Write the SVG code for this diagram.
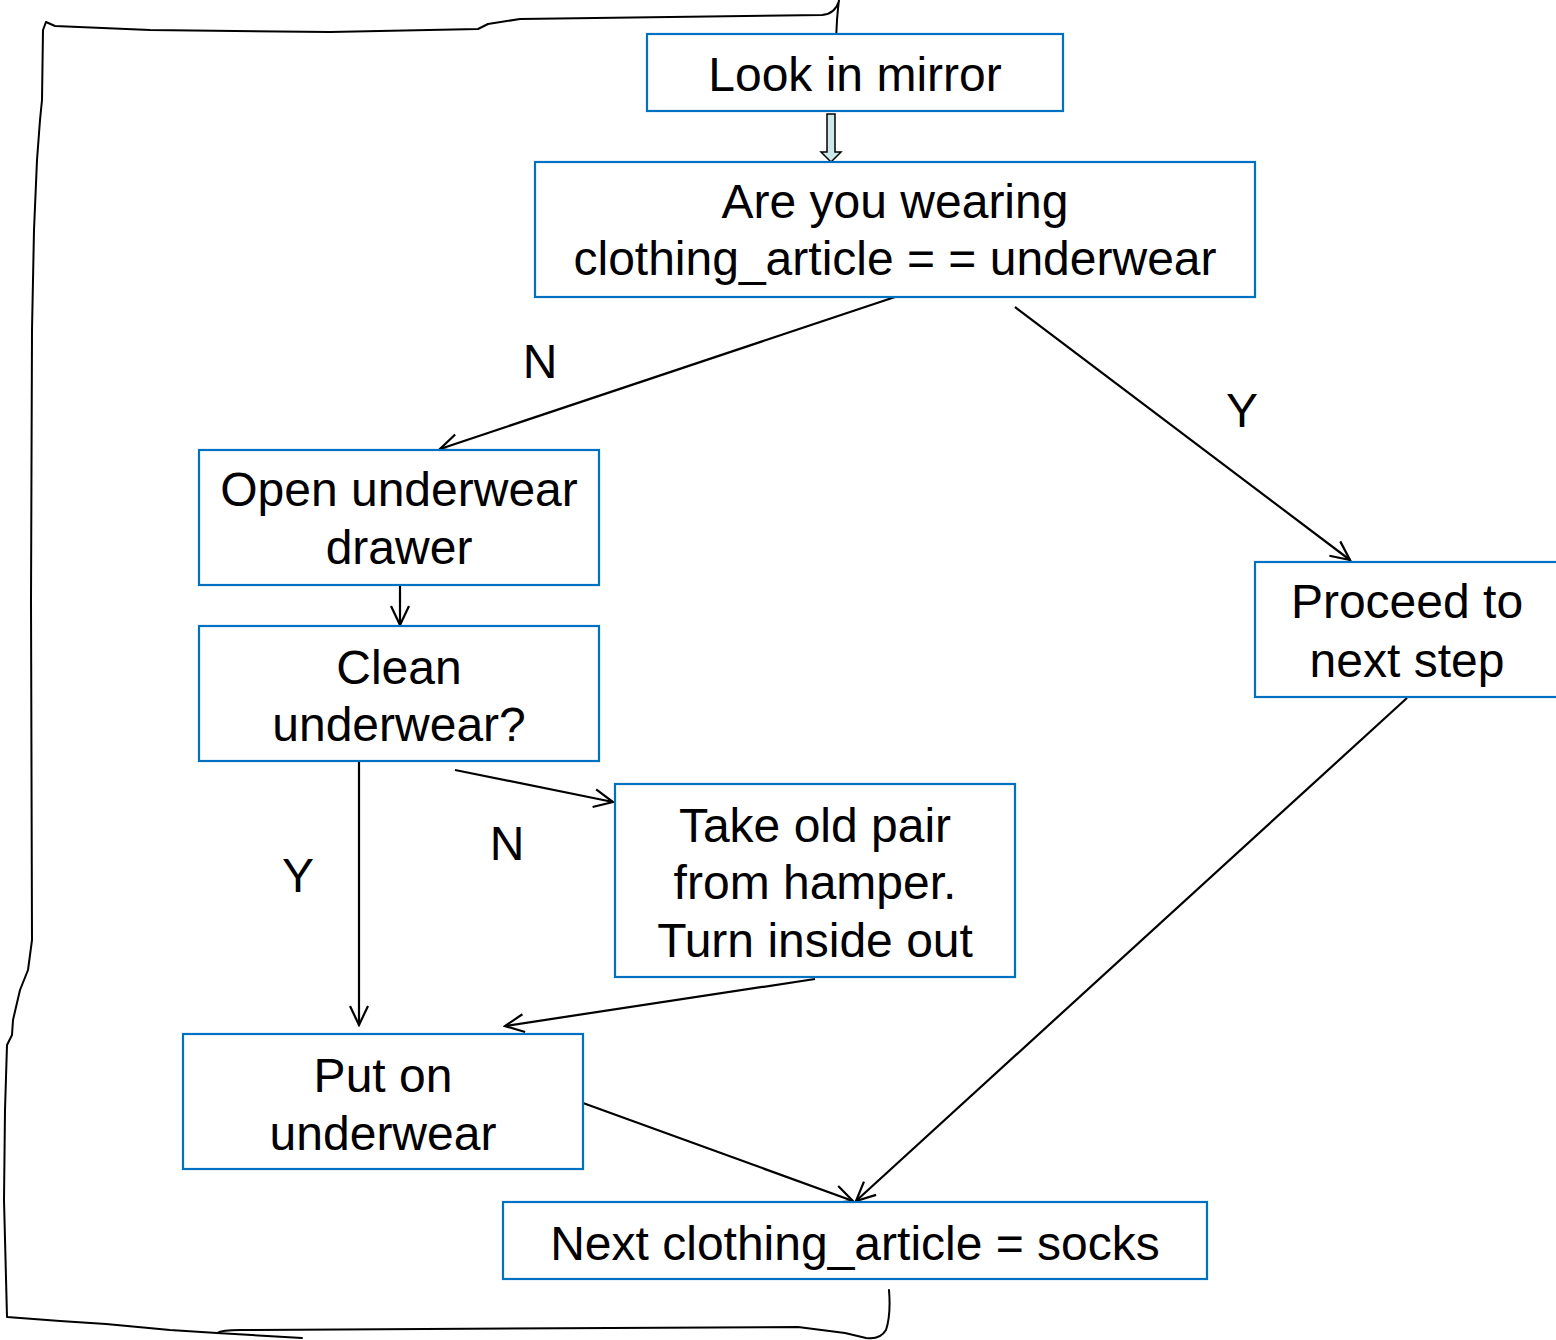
<svg xmlns="http://www.w3.org/2000/svg" width="1556" height="1340" viewBox="0 0 1556 1340">
<defs>
<style>
.box{fill:#fff;stroke:#0070C0;stroke-width:2.2}
.t{font-family:"Liberation Sans",Arial,sans-serif;font-size:48px;fill:#000;text-anchor:middle}
.c{fill:none;stroke:#000;stroke-width:2.2}
.h{fill:none;stroke:#000;stroke-width:2;stroke-linecap:round;stroke-linejoin:round}
</style>
<marker id="ah" viewBox="-22 -12 24 24" refX="0" refY="0" markerWidth="24" markerHeight="24" markerUnits="userSpaceOnUse" orient="auto">
<path d="M-19,-9 L0,0 L-19,9" fill="none" stroke="#000" stroke-width="2.2"/>
</marker>
</defs>
<rect width="1556" height="1340" fill="#fff"/>

<g id="loop">
<path class="h" d="M836,40 L837,20 Q838,8 839,0 M839,1 Q835,14 822,15 L520,19 L488,24 L478,29 L330,32 L150,30 L55,26 L46,22 L43,30 L42,100 L40,120 L37,160 L34,230 L32,330 L31,600 L32,940 L28,970 L20,990 L13,1020 L12,1035 L7,1045 L5,1110 L4,1200 L7,1317 L60,1321 L106,1324 L170,1330 L217,1333 L302,1338"/>
<path class="h" d="M217,1333 Q222,1330 240,1330 L798,1327 L845,1333 L866,1338 Q880,1340 886,1330 Q891,1315 889,1290"/>
</g>

<g id="connectors">
<path d="M827,114 L835,114 L835,152 L841,152 L831,162 L821,152 L827,152 Z" fill="#CDE8E8" stroke="#000" stroke-width="1.5"/>
<line class="c" x1="895" y1="297" x2="440" y2="449" marker-end="url(#ah)"/>
<line class="c" x1="1015" y1="307" x2="1350" y2="560" marker-end="url(#ah)"/>
<line class="c" x1="400" y1="586" x2="400" y2="625" marker-end="url(#ah)"/>
<line class="c" x1="359" y1="757" x2="359" y2="1025" marker-end="url(#ah)"/>
<line class="c" x1="455" y1="770" x2="613" y2="802" marker-end="url(#ah)"/>
<line class="c" x1="815" y1="979" x2="505" y2="1026" marker-end="url(#ah)"/>
<line class="c" x1="583" y1="1103" x2="853" y2="1201" marker-end="url(#ah)"/>
<line class="c" x1="1407" y1="698" x2="856" y2="1201" marker-end="url(#ah)"/>
<text class="t" x="540" y="378">N</text>
<text class="t" x="1242" y="427">Y</text>
<text class="t" x="507" y="860">N</text>
<text class="t" x="298" y="892">Y</text>
</g>

<g id="look">
<rect class="box" x="647" y="34" width="416" height="77"/>
<text class="t" x="855" y="91">Look in mirror</text>
</g>
<g id="wearing">
<rect class="box" x="535" y="162" width="720" height="135"/>
<text class="t" x="895" y="218">Are you wearing</text>
<text class="t" x="895" y="275">clothing_article = = underwear</text>
</g>
<g id="open">
<rect class="box" x="199" y="450" width="400" height="135"/>
<text class="t" x="399" y="506">Open underwear</text>
<text class="t" x="399" y="564">drawer</text>
</g>
<g id="clean">
<rect class="box" x="199" y="626" width="400" height="135"/>
<text class="t" x="399" y="684">Clean</text>
<text class="t" x="399" y="741">underwear?</text>
</g>
<g id="take">
<rect class="box" x="615" y="784" width="400" height="193"/>
<text class="t" x="815" y="842">Take old pair</text>
<text class="t" x="815" y="899">from hamper.</text>
<text class="t" x="815" y="957">Turn inside out</text>
</g>
<g id="puton">
<rect class="box" x="183" y="1034" width="400" height="135"/>
<text class="t" x="383" y="1092">Put on</text>
<text class="t" x="383" y="1150">underwear</text>
</g>
<g id="next">
<rect class="box" x="503" y="1202" width="704" height="77"/>
<text class="t" x="855" y="1260">Next clothing_article = socks</text>
</g>
<g id="proceed">
<rect class="box" x="1255" y="562" width="320" height="135"/>
<text class="t" x="1407" y="618">Proceed to</text>
<text class="t" x="1407" y="677">next step</text>
</g>
</svg>
